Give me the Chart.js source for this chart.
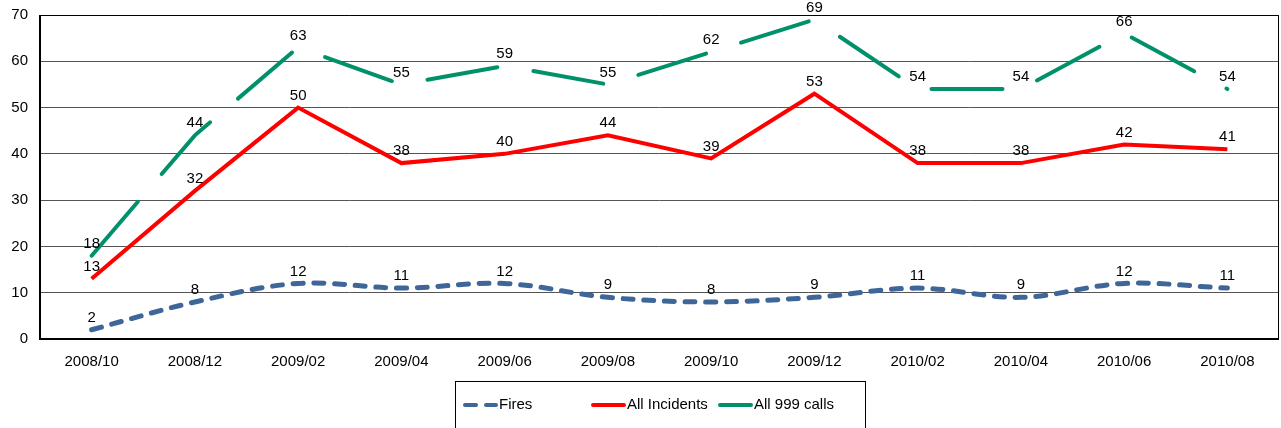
<!DOCTYPE html>
<html><head><meta charset="utf-8">
<script src="https://cdn.jsdelivr.net/npm/chart.js@4/dist/chart.umd.min.js"></script>
<style>html,body{margin:0;padding:0;background:#fff;}#wrap{width:1281px;height:428px;}</style>
</head><body><div id="wrap"><canvas id="c" width="1281" height="428"></canvas></div>
<script>
const categories = ["2008/10","2008/12","2009/02","2009/04","2009/06","2009/08","2009/10","2009/12","2010/02","2010/04","2010/06","2010/08"];
const fires = [2,8,12,11,12,9,8,9,11,9,12,11];
const allIncidents = [13,32,50,38,40,44,39,53,38,38,42,41];
const all999 = [18,44,63,55,59,55,62,69,54,54,66,54];
const yTicks = [0,10,20,30,40,50,60,70];

const FONT = "'Liberation Sans', Arial, sans-serif";

const labelsPlugin = {
  id: 'vlabels',
  afterDatasetsDraw(chart) {
    const ctx = chart.ctx;
    ctx.save();
    ctx.font = '15px ' + FONT;
    ctx.fillStyle = '#000';
    ctx.textAlign = 'center';
    ctx.textBaseline = 'middle';
    chart.data.datasets.forEach((ds, i) => {
      const meta = chart.getDatasetMeta(i);
      meta.data.forEach((pt, j) => {
        ctx.fillText(String(ds.data[j]), pt.x, pt.y - 12);
      });
    });
    ctx.restore();
  }
};

const framePlugin = {
  id: 'frame',
  beforeDatasetsDraw(chart) {
    const a = chart.chartArea, ctx = chart.ctx;
    ctx.save();
    ctx.strokeStyle = '#000';
    ctx.lineWidth = 1;
    ctx.beginPath();
    ctx.moveTo(a.left, a.top + 0.5);
    ctx.lineTo(a.right - 0.5, a.top + 0.5);
    ctx.lineTo(a.right - 0.5, a.bottom);
    ctx.stroke();
    ctx.lineWidth = 2;
    ctx.beginPath();
    ctx.moveTo(a.left, a.top);
    ctx.lineTo(a.left, a.bottom);
    ctx.lineTo(a.right, a.bottom);
    ctx.stroke();
    ctx.restore();
  }
};

const legendPlugin = {
  id: 'boxLegend',
  afterDraw(chart) {
    const ctx = chart.ctx;
    ctx.save();
    ctx.strokeStyle = '#000';
    ctx.lineWidth = 1;
    ctx.strokeRect(455.5, 381.5, 410, 60);
    ctx.font = '15px ' + FONT;
    ctx.fillStyle = '#000';
    ctx.textBaseline = 'middle';
    const yy = 405;
    const items = [[463, 0], [591, 1], [718, 2]];
    items.forEach(([x, i]) => {
      const ds = chart.data.datasets[i];
      ctx.strokeStyle = ds.borderColor;
      ctx.lineWidth = 4;
      ctx.lineCap = 'round';
      if (i === 0) {
        ctx.beginPath(); ctx.moveTo(x + 2, yy); ctx.lineTo(x + 13, yy); ctx.stroke();
        ctx.beginPath(); ctx.moveTo(x + 23, yy); ctx.lineTo(x + 33, yy); ctx.stroke();
      } else {
        ctx.beginPath(); ctx.moveTo(x + 2, yy); ctx.lineTo(x + 33, yy); ctx.stroke();
      }
      ctx.fillText(ds.label, x + 36, yy);
    });
    ctx.restore();
  }
};

new Chart(document.getElementById('c'), {
  type: 'line',
  data: {
    labels: categories,
    datasets: [
      { label: 'Fires', data: fires, borderColor: '#3F6699', borderWidth: 5, borderDash: [10, 10.7], borderCapStyle: 'round', tension: 0.35, pointRadius: 0, fill: false },
      { label: 'All Incidents', data: allIncidents, borderColor: '#FF0000', borderWidth: 4, tension: 0, pointRadius: 0, fill: false, borderJoinStyle: 'miter' },
      { label: 'All 999 calls', data: all999, borderColor: '#00916B', borderWidth: 4, borderDash: [71, 36.6], borderCapStyle: 'round', tension: 0, pointRadius: 0, fill: false }
    ]
  },
  options: {
    responsive: false,
    animation: false,
    devicePixelRatio: 1,
    layout: { padding: { top: 15, right: 2, left: 0, bottom: 0 } },
    plugins: { legend: { display: false }, tooltip: { enabled: false } },
    scales: {
      x: {
        offset: true,
        grid: { display: false, drawTicks: false },
        border: { display: false },
        ticks: { color: '#000', font: { family: FONT, size: 15 }, padding: 14, maxRotation: 0, autoSkip: false },
        afterFit(s) { s.height = 89; s.paddingLeft = 0; s.paddingRight = 0; }
      },
      y: {
        min: 0, max: 70,
        afterBuildTicks(s) { s.ticks = yTicks.map(v => ({ value: v })); },
        grid: { color: '#555', lineWidth: 1, drawTicks: false },
        border: { display: false },
        ticks: { color: '#000', font: { family: FONT, size: 15 }, padding: 12 },
        afterFit(s) { s.width = 40; s.paddingTop = 0; s.paddingBottom = 0; }
      }
    }
  },
  plugins: [framePlugin, labelsPlugin, legendPlugin]
});
</script></body></html>
